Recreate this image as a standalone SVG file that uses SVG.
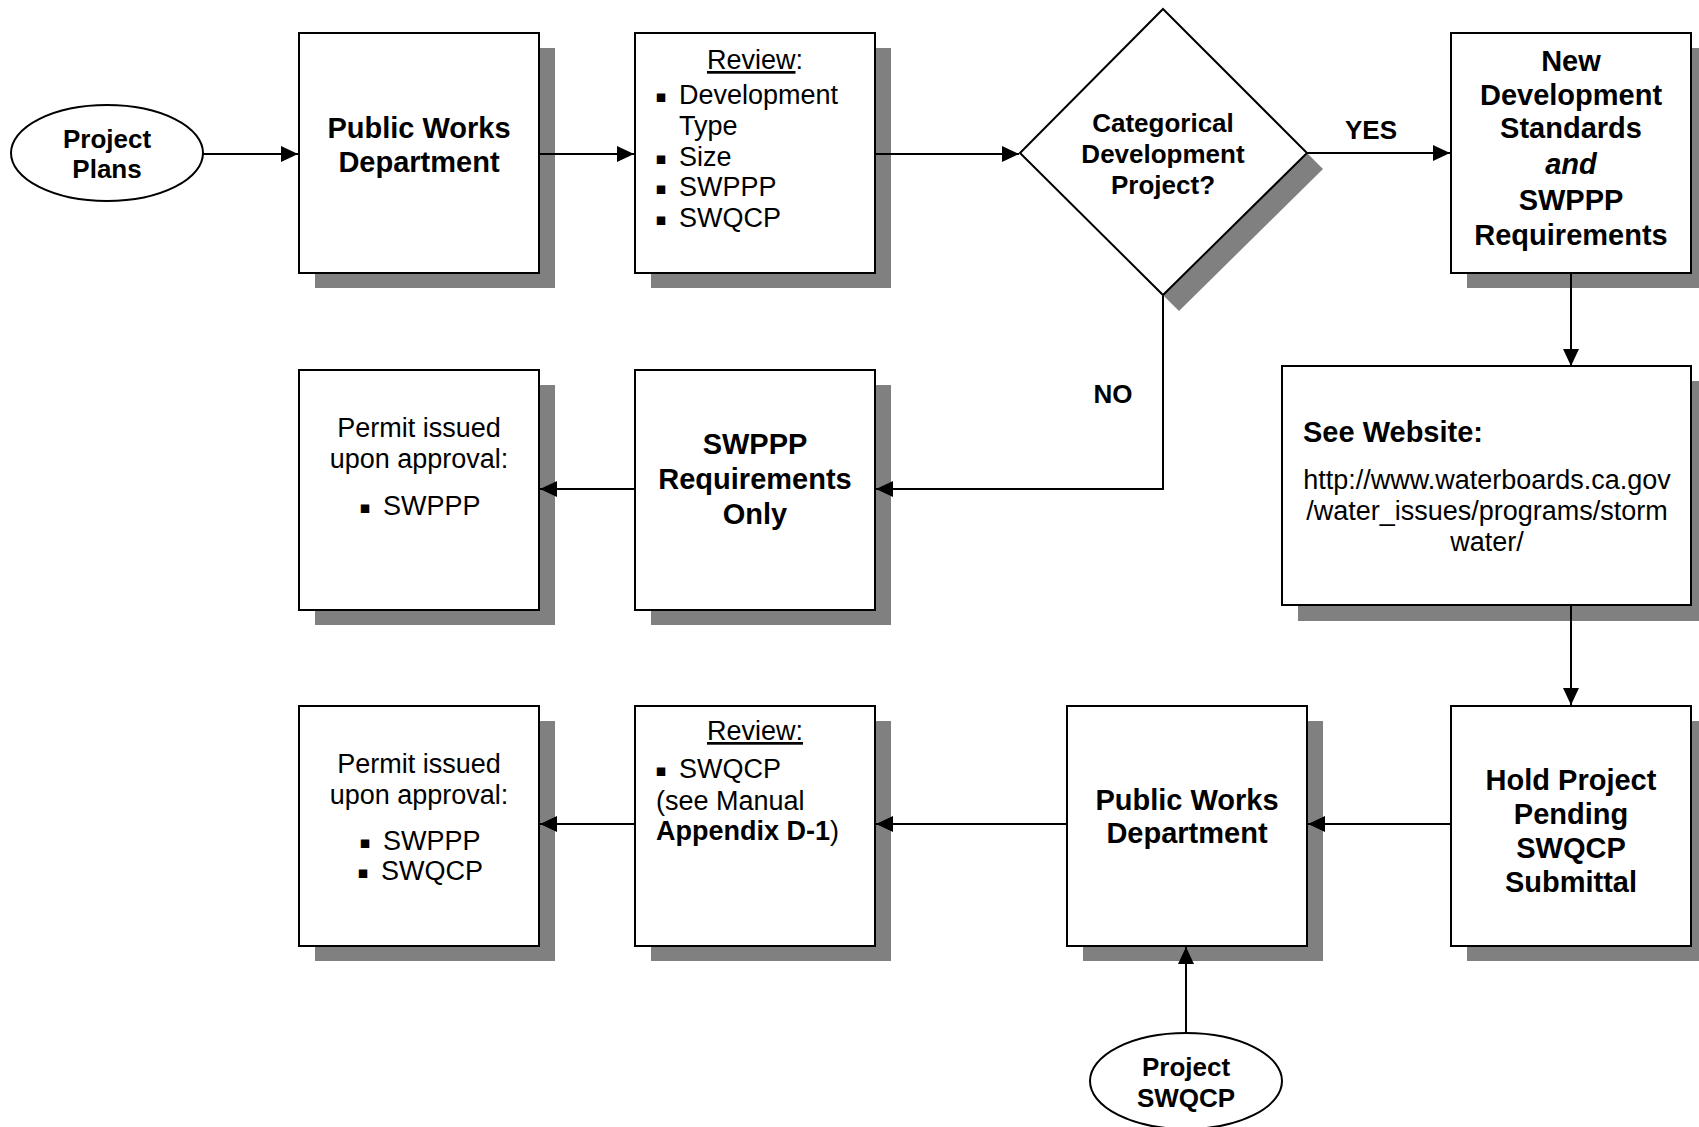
<svg xmlns="http://www.w3.org/2000/svg" width="1699" height="1127" viewBox="0 0 1699 1127">
<style>
.box{fill:#fff;stroke:#000;stroke-width:2}
.sh{fill:#808080}
.b{font-family:"Liberation Sans",Arial,sans-serif;font-weight:bold;font-size:29px;text-anchor:middle}
.bs{font-family:"Liberation Sans",Arial,sans-serif;font-weight:bold;font-size:29px;text-anchor:start}
.b26{font-family:"Liberation Sans",Arial,sans-serif;font-weight:bold;font-size:26px;text-anchor:middle}
.r{font-family:"Liberation Sans",Arial,sans-serif;font-size:27px}
.m{text-anchor:middle}
.bul{font-family:"DejaVu Sans",sans-serif;font-size:17px;text-anchor:middle}
.ln{fill:none;stroke:#000;stroke-width:2}
</style>
<defs>
<marker id="ah" markerWidth="17" markerHeight="16" refX="17" refY="8" orient="auto" markerUnits="userSpaceOnUse">
<path d="M0,0 L17,8 L0,16 Z" fill="#000"/>
</marker>
</defs>
<rect width="1699" height="1127" fill="#fff"/>

<g id="project-plans">
<ellipse cx="107" cy="153" rx="96" ry="48" fill="#fff" stroke="#000" stroke-width="2"/>
<text class="b26" x="107" y="148">Project</text>
<text class="b26" x="107" y="178">Plans</text>
</g>

<g id="pwd1">
<rect class="sh" x="315" y="48" width="240" height="240"/>
<rect class="box" x="299" y="33" width="240" height="240"/>
<text class="b" x="419" y="138">Public Works</text>
<text class="b" x="419" y="172">Department</text>
</g>

<g id="review1">
<rect class="sh" x="651" y="48" width="240" height="240"/>
<rect class="box" x="635" y="33" width="240" height="240"/>
<text class="r m" x="755" y="69"><tspan text-decoration="underline">Review</tspan>:</text>
<text class="bul" x="661" y="102">▪</text>
<text class="r" x="679" y="104">Development</text>
<text class="r" x="679" y="135">Type</text>
<text class="bul" x="661" y="164">▪</text>
<text class="r" x="679" y="166">Size</text>
<text class="bul" x="661" y="194">▪</text>
<text class="r" x="679" y="196">SWPPP</text>
<text class="bul" x="661" y="225">▪</text>
<text class="r" x="679" y="227">SWQCP</text>
</g>

<g id="decision">
<polygon class="sh" points="1179,25 1323,169 1179,311 1036,169"/>
<polygon points="1163,9 1307,153 1163,295 1020,153" fill="#fff" stroke="#000" stroke-width="2"/>
<text class="b26" x="1163" y="132">Categorical</text>
<text class="b26" x="1163" y="163">Development</text>
<text class="b26" x="1163" y="194">Project?</text>
</g>

<g id="nds">
<rect class="sh" x="1467" y="48" width="240" height="240"/>
<rect class="box" x="1451" y="33" width="240" height="240"/>
<text class="b" x="1571" y="71">New</text>
<text class="b" x="1571" y="105">Development</text>
<text class="b" x="1571" y="138">Standards</text>
<text class="b" x="1571" y="174" font-style="italic">and</text>
<text class="b" x="1571" y="210">SWPPP</text>
<text class="b" x="1571" y="245">Requirements</text>
</g>

<g id="website">
<rect class="sh" x="1298" y="381" width="409" height="240"/>
<rect class="box" x="1282" y="366" width="409" height="239"/>
<text class="bs" x="1303" y="442">See Website:</text>
<text class="r m" x="1487" y="489">http://www.waterboards.ca.gov</text>
<text class="r m" x="1487" y="520">/water_issues/programs/storm</text>
<text class="r m" x="1487" y="551">water/</text>
</g>

<g id="permit1">
<rect class="sh" x="315" y="385" width="240" height="240"/>
<rect class="box" x="299" y="370" width="240" height="240"/>
<text class="r m" x="419" y="437">Permit issued</text>
<text class="r m" x="419" y="468">upon approval:</text>
<text class="bul" x="365" y="513">▪</text>
<text class="r" x="383" y="515">SWPPP</text>
</g>

<g id="swppp-only">
<rect class="sh" x="651" y="385" width="240" height="240"/>
<rect class="box" x="635" y="370" width="240" height="240"/>
<text class="b" x="755" y="454">SWPPP</text>
<text class="b" x="755" y="489">Requirements</text>
<text class="b" x="755" y="524">Only</text>
</g>

<g id="permit2">
<rect class="sh" x="315" y="721" width="240" height="240"/>
<rect class="box" x="299" y="706" width="240" height="240"/>
<text class="r m" x="419" y="773">Permit issued</text>
<text class="r m" x="419" y="804">upon approval:</text>
<text class="bul" x="365" y="848">▪</text>
<text class="r" x="383" y="850">SWPPP</text>
<text class="bul" x="363" y="878">▪</text>
<text class="r" x="381" y="880">SWQCP</text>
</g>

<g id="review2">
<rect class="sh" x="651" y="721" width="240" height="240"/>
<rect class="box" x="635" y="706" width="240" height="240"/>
<text class="r m" x="755" y="740" text-decoration="underline">Review:</text>
<text class="bul" x="661" y="776">▪</text>
<text class="r" x="679" y="778">SWQCP</text>
<text class="r" x="656" y="810">(see Manual</text>
<text class="r" x="656" y="840"><tspan font-weight="bold">Appendix D-1</tspan>)</text>
</g>

<g id="pwd2">
<rect class="sh" x="1083" y="721" width="240" height="240"/>
<rect class="box" x="1067" y="706" width="240" height="240"/>
<text class="b" x="1187" y="810">Public Works</text>
<text class="b" x="1187" y="843">Department</text>
</g>

<g id="hold">
<rect class="sh" x="1467" y="721" width="240" height="240"/>
<rect class="box" x="1451" y="706" width="240" height="240"/>
<text class="b" x="1571" y="790">Hold Project</text>
<text class="b" x="1571" y="824">Pending</text>
<text class="b" x="1571" y="858">SWQCP</text>
<text class="b" x="1571" y="892">Submittal</text>
</g>

<g id="project-swqcp">
<ellipse cx="1186" cy="1081" rx="96" ry="48" fill="#fff" stroke="#000" stroke-width="2"/>
<text class="b26" x="1186" y="1076">Project</text>
<text class="b26" x="1186" y="1107">SWQCP</text>
</g>

<g id="connectors">
<line class="ln" x1="203" y1="154" x2="298" y2="154" marker-end="url(#ah)"/>
<line class="ln" x1="540" y1="154" x2="634" y2="154" marker-end="url(#ah)"/>
<line class="ln" x1="876" y1="154" x2="1019" y2="154" marker-end="url(#ah)"/>
<line class="ln" x1="1307" y1="153" x2="1450" y2="153" marker-end="url(#ah)"/>
<line class="ln" x1="1571" y1="274" x2="1571" y2="366" marker-end="url(#ah)"/>
<line class="ln" x1="1571" y1="606" x2="1571" y2="705" marker-end="url(#ah)"/>
<polyline class="ln" points="1163,296 1163,489 876,489" marker-end="url(#ah)"/>
<line class="ln" x1="634" y1="489" x2="540" y2="489" marker-end="url(#ah)"/>
<line class="ln" x1="1450" y1="824" x2="1308" y2="824" marker-end="url(#ah)"/>
<line class="ln" x1="1066" y1="824" x2="876" y2="824" marker-end="url(#ah)"/>
<line class="ln" x1="634" y1="824" x2="540" y2="824" marker-end="url(#ah)"/>
<line class="ln" x1="1186" y1="1032" x2="1186" y2="947" marker-end="url(#ah)"/>
<text class="b26" x="1371" y="139">YES</text>
<text class="b26" x="1113" y="403">NO</text>
</g>
</svg>
